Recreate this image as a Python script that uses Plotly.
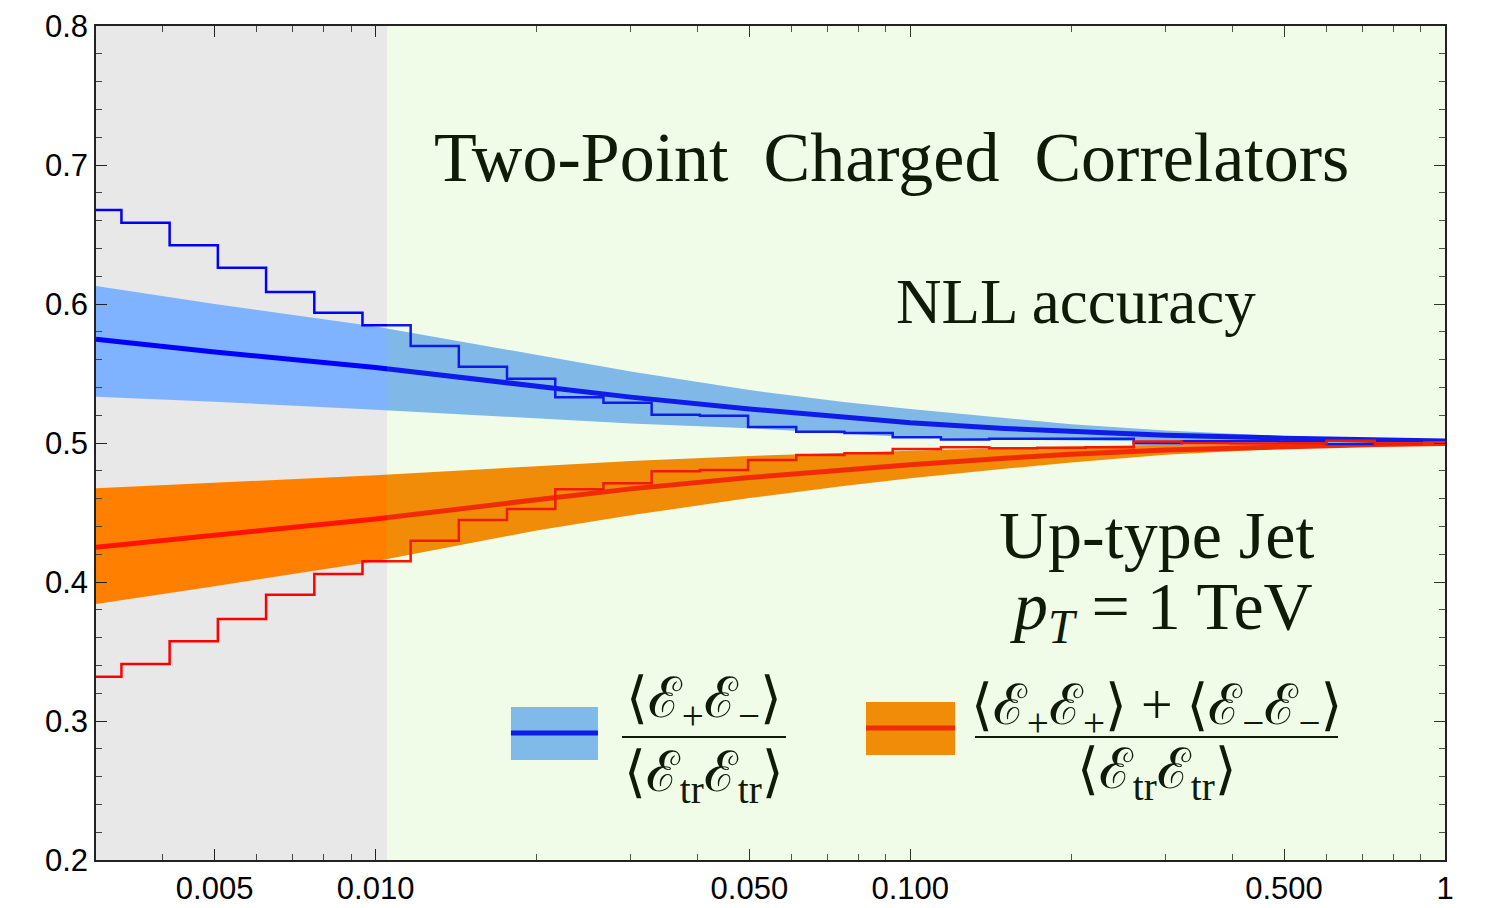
import plotly.graph_objects as go

# --- data ---
x_theory = [0.003, 0.005, 0.01, 0.02, 0.03, 0.05, 0.075, 0.1, 0.15, 0.2, 0.3, 0.5, 0.75, 1.0]

blue_mid = [0.5746, 0.5655, 0.5543, 0.5403, 0.5330, 0.5245, 0.5185, 0.5146, 0.5105, 0.5081, 0.5055, 0.5035, 0.5022, 0.5015]
blue_hi = [0.6129, 0.6000, 0.5838, 0.5631, 0.5515, 0.5381, 0.5295, 0.5245, 0.5180, 0.5135, 0.5090, 0.5050, 0.5030, 0.5020]
blue_lo = [0.5333, 0.5297, 0.5240, 0.5175, 0.5140, 0.5106, 0.5068, 0.5042, 0.5025, 0.5018, 0.5011, 0.5006, 0.5002, 0.5000]

red_mid = [0.4250, 0.4335, 0.4453, 0.4592, 0.4670, 0.4751, 0.4808, 0.4844, 0.4890, 0.4919, 0.4950, 0.4975, 0.4990, 0.4997]
orange_hi = [0.4674, 0.4715, 0.4768, 0.4833, 0.4870, 0.4907, 0.4930, 0.4945, 0.4962, 0.4975, 0.4987, 0.4995, 0.5000, 0.5003]
orange_lo = [0.3842, 0.3970, 0.4150, 0.4370, 0.4480, 0.4604, 0.4690, 0.4746, 0.4815, 0.4860, 0.4915, 0.4960, 0.4985, 0.4995]

# histogram bin edges (log spaced) and bin contents
bin_edges = [0.00272, 0.003347, 0.004119, 0.005070, 0.006240, 0.007680, 0.009450, 0.01163,
             0.01431, 0.01761, 0.02168, 0.02668, 0.03283, 0.04041, 0.04973, 0.06120,
             0.07532, 0.09270, 0.1141, 0.1404, 0.1728, 0.2127, 0.2617, 0.3221,
             0.3964, 0.4879, 0.6004, 0.7389, 0.9094]
hist_blue = [0.6676, 0.6585, 0.6422, 0.6261, 0.6086, 0.5937, 0.5847, 0.5698, 0.5549, 0.5463,
             0.5329, 0.5290, 0.5203, 0.5196, 0.5115, 0.5081, 0.5072, 0.5041, 0.5026, 0.5030,
             0.5030, 0.5030, 0.4998, 0.5012, 0.5012, 0.5010, 0.4993, 0.5017]
hist_red = [0.3319, 0.3410, 0.3573, 0.3734, 0.3909, 0.4058, 0.4149, 0.4297, 0.4446, 0.4525,
            0.4667, 0.4710, 0.4797, 0.4806, 0.4878, 0.4914, 0.4926, 0.4957, 0.4969, 0.4963,
            0.4966, 0.4970, 0.5010, 0.4998, 0.4997, 0.4998, 0.5017, 0.4993]

x_cut = 0.0105
major_x = [0.005, 0.01, 0.05, 0.1, 0.5, 1]
major_x_text = ["0.005", "0.010", "0.050", "0.100", "0.500", "1"]
minor_x = [0.004, 0.006, 0.007, 0.008, 0.009, 0.02, 0.03, 0.04, 0.06, 0.07, 0.08, 0.09,
           0.2, 0.3, 0.4, 0.6, 0.7, 0.8, 0.9]

TXT = "#0f1b07"
SERIF = "Liberation Serif, DejaVu Serif, serif"
SANS = "Liberation Sans, Arial, sans-serif"

fig = go.Figure()

# bands
fig.add_trace(go.Scatter(x=x_theory, y=blue_lo, mode="lines", line=dict(width=0),
                         showlegend=False, hoverinfo="skip"))
fig.add_trace(go.Scatter(x=x_theory, y=blue_hi, mode="lines", line=dict(width=0),
                         fill="tonexty", fillcolor="#80b3ff", showlegend=False, hoverinfo="skip"))
fig.add_trace(go.Scatter(x=x_theory, y=orange_lo, mode="lines", line=dict(width=0),
                         showlegend=False, hoverinfo="skip"))
fig.add_trace(go.Scatter(x=x_theory, y=orange_hi, mode="lines", line=dict(width=0),
                         fill="tonexty", fillcolor="#ff8000", showlegend=False, hoverinfo="skip"))

# central curves
fig.add_trace(go.Scatter(x=x_theory, y=blue_mid, mode="lines",
                         line=dict(color="#0000ff", width=5), showlegend=False))
fig.add_trace(go.Scatter(x=x_theory, y=red_mid, mode="lines",
                         line=dict(color="#ff1400", width=5), showlegend=False))

# step histograms
fig.add_trace(go.Scatter(x=bin_edges, y=hist_blue + [hist_blue[-1]], mode="lines",
                         line=dict(color="#0000ff", width=2.5, shape="hv"), showlegend=False))
fig.add_trace(go.Scatter(x=bin_edges, y=hist_red + [hist_red[-1]], mode="lines",
                         line=dict(color="#ff0000", width=2.5, shape="hv"), showlegend=False))

# shaded regions
fig.add_shape(type="rect", xref="x", yref="y", x0=0.003, x1=x_cut, y0=0.2, y1=0.8,
              fillcolor="#e8e8e8", line_width=0, layer="below")
fig.add_shape(type="rect", xref="x", yref="y", x0=x_cut, x1=1, y0=0.2, y1=0.8,
              fillcolor="rgba(127,229,59,0.118)", line_width=0, layer="above")


def label(text, x, y, size):
    fig.add_annotation(x=x, y=y, xref="paper", yref="paper", text=text, showarrow=False,
                       xanchor="center", yanchor="middle",
                       font=dict(family=SERIF, size=size, color=TXT))


label("Two-Point  Charged  Correlators", 0.590, 0.842, 70)
label("NLL accuracy", 0.7265, 0.669, 63)
label("Up-type Jet", 0.7865, 0.390, 68)
label("<i>p</i><sub><i>T</i></sub> = 1 TeV", 0.790, 0.299, 68)

# hand-made legend
fig.add_shape(type="rect", xref="paper", yref="paper", x0=0.3076, x1=0.3721, y0=0.1199, y1=0.1835,
              fillcolor="#80bae8", line_width=0, layer="above")
fig.add_shape(type="line", xref="paper", yref="paper", x0=0.3076, x1=0.3721, y0=0.1523, y1=0.1523,
              line=dict(color="#0f1be8", width=5), layer="above")
fig.add_shape(type="rect", xref="paper", yref="paper", x0=0.5708, x1=0.6368, y0=0.1259, y1=0.1894,
              fillcolor="#f08c07", line_width=0, layer="above")
fig.add_shape(type="line", xref="paper", yref="paper", x0=0.5708, x1=0.6368, y0=0.1583, y1=0.1583,
              line=dict(color="#f02d07", width=5), layer="above")
fig.add_shape(type="line", xref="paper", yref="paper", x0=0.3899, x1=0.5115, y0=0.1475, y1=0.1475,
              line=dict(color=TXT, width=2), layer="above")
fig.add_shape(type="line", xref="paper", yref="paper", x0=0.6516, x1=0.9207, y0=0.1475, y1=0.1475,
              line=dict(color=TXT, width=2), layer="above")

E = "\u2130"
num1 = "\u27e8" + E + "<sub>+</sub>" + E + "<sub>\u2212</sub>\u27e9"
den = "\u27e8" + E + "<sub>tr</sub>" + E + "<sub>tr</sub>\u27e9"
num2 = ("\u27e8" + E + "<sub>+</sub>" + E + "<sub>+</sub>\u27e9 + \u27e8"
        + E + "<sub>\u2212</sub>" + E + "<sub>\u2212</sub>\u27e9")
label(num1, 0.4507, 0.1894, 56)
label(den, 0.4507, 0.1008, 56)
label(num2, 0.7865, 0.1810, 56)
label(den, 0.7865, 0.1046, 56)

fig.update_xaxes(
    type="log", range=[-2.5229, 0], automargin=False,
    tickvals=major_x, ticktext=major_x_text,
    ticks="inside", ticklen=11, tickwidth=1.2, tickcolor="#222",
    minor=dict(tickvals=minor_x, ticks="inside", ticklen=6, tickwidth=1, tickcolor="#444"),
    showline=True, linecolor="#222", linewidth=1.5, mirror="ticks",
    showgrid=False, zeroline=False,
    tickfont=dict(family=SANS, size=31, color="black"),
)
fig.update_yaxes(
    range=[0.2, 0.8], automargin=False, tickvals=[0.2, 0.3, 0.4, 0.5, 0.6, 0.7, 0.8],
    ticktext=["0.2", "0.3", "0.4", "0.5", "0.6", "0.7", "0.8"],
    ticks="inside", ticklen=11, tickwidth=1.2, tickcolor="#222",
    minor=dict(dtick=0.02, ticks="inside", ticklen=6, tickwidth=1, tickcolor="#444"),
    showline=True, linecolor="#222", linewidth=1.5, mirror="ticks",
    showgrid=False, zeroline=False,
    tickfont=dict(family=SANS, size=31, color="black"),
)

# the page adds an 8px body margin, so the margins are shifted to compensate
fig.update_layout(
    width=1485, height=908,
    margin=dict(l=88, r=48, t=18, b=56),
    paper_bgcolor="white", plot_bgcolor="white",
    showlegend=False,
)

fig.write_html("out.html")
